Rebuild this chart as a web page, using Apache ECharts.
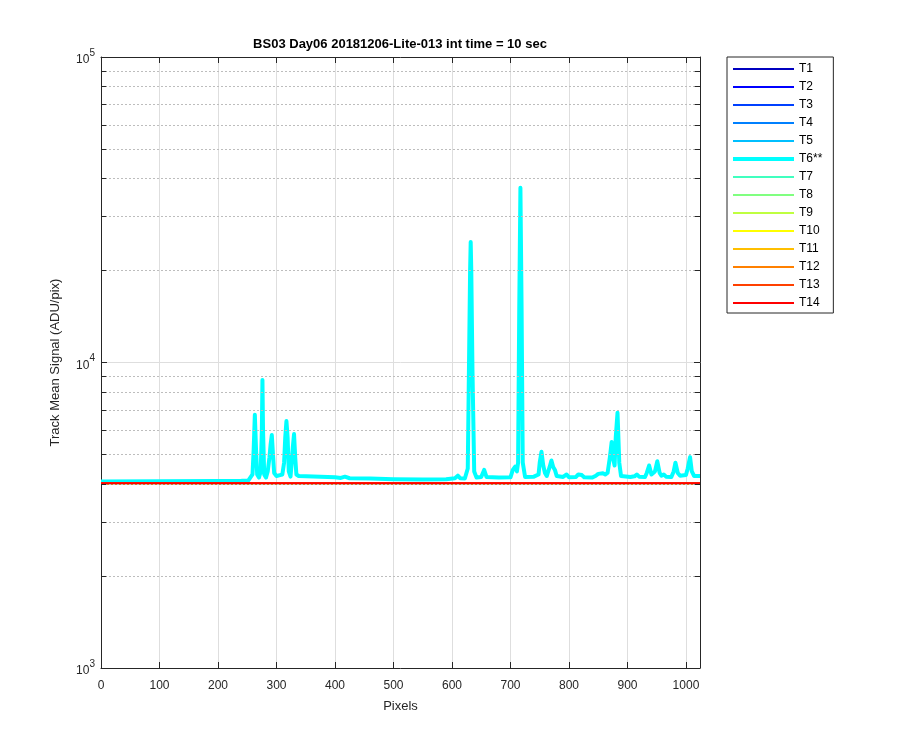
<!DOCTYPE html>
<html><head><meta charset="utf-8">
<script src="https://cdn.jsdelivr.net/npm/echarts@6/dist/echarts.min.js"></script>
<style>html,body{margin:0;padding:0;background:#fff}#c{width:900px;height:750px}</style>
</head><body><div id="c"></div>
<script>
// ---- data ----
const trackNames = ['T1','T2','T3','T4','T5','T6**','T7','T8','T9','T10','T11','T12','T13','T14'];
const trackColors = ['#0000BF','#0000FF','#0040FF','#0080FF','#00BFFF','#00FFFF','#40FFBF','#80FF80','#BFFF40','#FFFF00','#FFBF00','#FF8000','#FF4000','#FF0000'];
// flat tracks (all except T6): start/end pixel and level
const flatPixels = [0, 1024];
const flatLevels = [4025,4025,4025,4025,4025,null,4025,4025,4025,4025,4025,4025,4025,4025];
// T6 (highlighted track)
const t6Pixels = [0,100,200,240,252,259,261,263,265,267,270,273,275,276,277,279,282,285,288,290,292,294,296,300,306,310,313,315,317,319,321,324,326,328,330,332,334,338,400,410,417,425,460,500,550,590,605,610,614,622,627,629,631,632,633,635,638,642,650,655,659,680,700,704,708,711,713,715,717,719,721,725,740,748,750,753,756,759,762,765,767,770,773,776,779,790,796,800,812,816,819,822,826,840,846,850,853,858,862,866,870,873,876,878,880,883,886,889,905,912,916,920,930,933,937,941,944,947,951,955,958,962,966,975,979,982,986,990,1000,1003,1007,1010,1014,1024];
const t6Values = [4080,4085,4090,4100,4110,4300,5200,6740,5200,4300,4200,4400,6000,8760,6000,4300,4200,4400,4900,5400,5790,5000,4350,4250,4280,4300,4700,5700,6430,5700,4400,4230,4700,5300,5830,4900,4300,4250,4210,4190,4230,4180,4170,4150,4140,4145,4180,4260,4180,4170,4500,9500,20000,24800,20000,9500,4400,4200,4220,4450,4220,4200,4210,4450,4560,4400,4700,15000,37300,15000,4700,4220,4230,4300,4700,5100,4600,4350,4250,4300,4550,4780,4550,4450,4250,4220,4300,4210,4220,4300,4350,4280,4210,4200,4260,4320,4280,4340,4300,4350,4900,5490,4800,4600,5700,6850,4700,4250,4220,4240,4300,4230,4220,4350,4600,4300,4260,4400,4750,4350,4260,4300,4230,4220,4400,4700,4350,4260,4280,4500,4900,4400,4250,4250];
const xMin = 0, xMax = 1024, xStep = 100;
const yMin = 1000, yMax = 100000;
const minorGridValues = [2000,3000,4000,5000,6000,7000,8000,9000,20000,30000,40000,50000,60000,70000,80000,90000];
const titleText = 'BS03 Day06 20181206-Lite-013 int time = 10 sec';
const xName = 'Pixels';
const yName = 'Track Mean Signal (ADU/pix)';

// ---- chart ----
const FONT = '"Liberation Sans", Arial, Helvetica, sans-serif';
const AX = '#262626';
const chart = echarts.init(document.getElementById('c'), null, {renderer: 'canvas'});

const series = [];
const tickLen = 9;
const minorLines = minorGridValues.map(v => ({yAxis: v}));
const minorTicks = [];
minorGridValues.forEach(v => {
  minorTicks.push([{coord: [xMin, v]}, {coord: [xMin + tickLen, v]}]);
  minorTicks.push([{coord: [xMax - tickLen, v]}, {coord: [xMax, v]}]);
});
series.push({
  name: '_grid', type: 'line', data: [], silent: true, z: 1,
  markLine: {silent: true, symbol: 'none', animation: false, label: {show: false},
    lineStyle: {color: '#bdbdbd', type: [2, 2], width: 1}, data: minorLines}
});
series.push({
  name: '_ticks', type: 'line', data: [], silent: true, z: 5,
  markLine: {silent: true, symbol: 'none', animation: false, label: {show: false},
    lineStyle: {color: AX, type: 'solid', width: 1}, data: minorTicks}
});

trackNames.forEach((name, i) => {
  const isT6 = flatLevels[i] === null;
  const data = isT6 ? t6Pixels.map((p, k) => [p, t6Values[k]]) : flatPixels.map(p => [p, flatLevels[i]]);
  series.push({
    name, type: 'line', data, symbol: 'none', showSymbol: false, silent: true,
    z: 2, animation: false,
    lineStyle: {color: trackColors[i], width: isT6 ? 4 : 2, join: 'round'},
    itemStyle: {color: trackColors[i]},
    emphasis: {disabled: true}
  });
});

const option = {
  backgroundColor: '#fff',
  animation: false,
  textStyle: {fontFamily: FONT},
  grid: {left: 101, right: 200, top: 57, bottom: 82, containLabel: false},
  graphic: [{
    type: 'text', x: 400, y: 44,
    style: {text: titleText, textAlign: 'center', textVerticalAlign: 'middle',
      font: 'bold 13px ' + FONT, fill: '#000'}
  }],
  legend: {
    data: trackNames, orient: 'vertical', left: 727, top: 57,
    itemWidth: 61, itemHeight: 12, itemGap: 6, padding: [6, 11, 4, 4],
    borderColor: AX, borderWidth: 1, backgroundColor: '#fff', selectedMode: false,
    itemStyle: {color: 'rgba(0,0,0,0)', borderWidth: 0, opacity: 0},
    lineStyle: {width: 'inherit'},
    textStyle: {fontSize: 12, color: '#000', fontFamily: FONT}
  },
  xAxis: [{
    type: 'value', min: xMin, max: xMax, interval: xStep, position: 'bottom',
    name: xName, nameLocation: 'middle', nameGap: 32,
    nameTextStyle: {fontSize: 13, color: AX, fontFamily: FONT},
    axisLine: {show: true, onZero: false, lineStyle: {color: AX, width: 1}},
    axisTick: {show: true, inside: true, length: 6, lineStyle: {color: AX}},
    axisLabel: {color: AX, fontSize: 12, margin: 12, showMaxLabel: false, fontFamily: FONT,
      formatter: v => String(v)},
    splitLine: {show: true, lineStyle: {color: '#dedede', width: 1}}
  }, {
    type: 'value', min: xMin, max: xMax, interval: xStep, position: 'top',
    axisLine: {show: true, onZero: false, lineStyle: {color: AX, width: 1}},
    axisTick: {show: true, inside: true, length: 6, lineStyle: {color: AX}},
    axisLabel: {show: false}, splitLine: {show: false}
  }],
  yAxis: [{
    type: 'log', logBase: 10, min: yMin, max: yMax, position: 'left',
    name: yName, nameLocation: 'middle', nameGap: 39, nameRotate: 90,
    nameTextStyle: {fontSize: 13, color: AX, fontFamily: FONT},
    axisLine: {show: true, onZero: false, lineStyle: {color: AX, width: 1}},
    axisTick: {show: true, inside: true, length: 6, lineStyle: {color: AX}},
    axisLabel: {
      color: AX, margin: 6, fontFamily: FONT,
      formatter: v => '{b|10}{s|' + Math.round(Math.log10(v)) + '}',
      rich: {
        b: {fontSize: 12, lineHeight: 18, verticalAlign: 'bottom', color: AX, fontFamily: FONT, padding: [4, 0, 0, 0]},
        s: {fontSize: 10, lineHeight: 8, verticalAlign: 'top', color: AX, fontFamily: FONT}
      }
    },
    splitLine: {show: true, lineStyle: {color: '#dedede', width: 1}}
  }, {
    type: 'log', logBase: 10, min: yMin, max: yMax, position: 'right',
    axisLine: {show: true, onZero: false, lineStyle: {color: AX, width: 1}},
    axisTick: {show: true, inside: true, length: 6, lineStyle: {color: AX}},
    axisLabel: {show: false}, splitLine: {show: false}
  }],
  series
};
chart.setOption(option);
</script>
</body></html>
